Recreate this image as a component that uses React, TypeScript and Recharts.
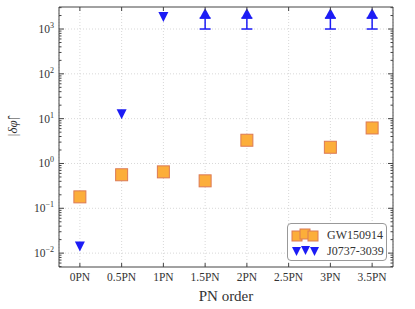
import React from "react";
import {
  CartesianGrid,
  ErrorBar,
  Legend,
  Scatter,
  ScatterChart,
  XAxis,
  YAxis,
} from "recharts";

const pnOrders = [0, 0.5, 1, 1.5, 2, 2.5, 3, 3.5];
const pnLabels = ["0PN", "0.5PN", "1PN", "1.5PN", "2PN", "2.5PN", "3PN", "3.5PN"];

const gwOrders = [0, 0.5, 1, 1.5, 2, 3, 3.5];
const gwValues = [0.18, 0.56, 0.65, 0.41, 3.3, 2.3, 6.2];

const psrBoundOrders = [0, 0.5, 1];
const psrBoundValues = [0.014, 12.5, 1850];

// lower limits: value is the base of the up-arrow, bar drops to 1e3
const psrLimitOrders = [1.5, 2, 3, 3.5];
const psrLimitValues = [1750, 1750, 1750, 1750];
const psrLimitLowErr = [750, 750, 750, 750];

const majorTicks = [0.01, 0.1, 1, 10, 100, 1000];
const minorTicks = [-3, -2, -1, 0, 1, 2, 3].flatMap((e) =>
  [2, 3, 4, 5, 6, 7, 8, 9].map((m) => Number((m * Math.pow(10, e)).toPrecision(3)))
).filter((v) => v >= 0.0049 && v <= 3100);
const allYTicks = [...majorTicks, ...minorTicks].sort((a, b) => a - b);

const gwData = gwOrders.map((x, i) => ({ x, y: gwValues[i] }));
const psrBoundData = psrBoundOrders.map((x, i) => ({ x, y: psrBoundValues[i] }));
const psrLimitData = psrLimitOrders.map((x, i) => ({ x, y: psrLimitValues[i], err: [psrLimitLowErr[i], 0] }));

const FONT = "'Liberation Serif', 'DejaVu Serif', serif";
const AXIS = "#444";
const BLUE = "#1c1cf5";
const ORANGE = "#fcae3a";
const ORANGE_EDGE = "#dc7a55";

const isMajor = (v: number) => Math.abs(Math.log10(v) - Math.round(Math.log10(v))) < 1e-6;

const LeftTick = (props: any) => {
  const { x, y, payload } = props;
  const v = payload.value;
  const major = isMajor(v);
  const len = major ? 5 : 2.5;
  const exp = Math.round(Math.log10(v));
  return (
    <g>
      <line x1={x} x2={x + len} y1={y} y2={y} stroke={AXIS} strokeWidth={1} />
      {major && (
        <text x={x - 5} y={y + 4} textAnchor="end" fontFamily={FONT} fontSize={11.5} fill="#333">
          10
          <tspan dy={-5} fontSize={8}>
            {exp < 0 ? "\u2212" + Math.abs(exp) : exp}
          </tspan>
        </text>
      )}
    </g>
  );
};

const RightTick = (props: any) => {
  const { x, y, payload } = props;
  const len = isMajor(payload.value) ? 5 : 2.5;
  return <line x1={x} x2={x - len} y1={y} y2={y} stroke={AXIS} strokeWidth={1} />;
};

const BottomTick = (props: any) => {
  const { x, y, payload } = props;
  const idx = pnOrders.indexOf(payload.value);
  return (
    <g>
      <line x1={x} x2={x} y1={y} y2={y - 4} stroke={AXIS} strokeWidth={1} />
      <text x={x} y={y + 14} textAnchor="middle" fontFamily={FONT} fontSize={11.5} fill="#333">
        {pnLabels[idx]}
      </text>
    </g>
  );
};

const TopTick = (props: any) => {
  const { x, y } = props;
  return <line x1={x} x2={x} y1={y} y2={y + 4} stroke={AXIS} strokeWidth={1} />;
};

const Square = (props: any) => {
  const { cx, cy } = props;
  const s = 12;
  return <rect x={cx - s / 2} y={cy - s / 2} width={s} height={s} fill={ORANGE} stroke={ORANGE_EDGE} strokeWidth={1} />;
};

const DownTri = (props: any) => {
  const { cx, cy } = props;
  const w = 5;
  return <path d={`M${cx - w},${cy - w} L${cx + w},${cy - w} L${cx},${cy + w} Z`} fill={BLUE} />;
};

// arrow head sits on top of the point, base at the point itself
const UpArrow = (props: any) => {
  const { cx, cy } = props;
  const w = 5.5;
  return <path d={`M${cx - w},${cy} L${cx + w},${cy} L${cx},${cy - 10} Z`} fill={BLUE} />;
};

const LegendBox = () => (
  <div
    style={{
      border: "1px solid #999",
      borderRadius: 4,
      background: "#fff",
      width: 100,
      height: 38,
      boxSizing: "border-box",
      fontFamily: FONT,
      fontSize: 12,
      color: "#333",
      padding: "3px 0 0 3px",
    }}
  >
    <div style={{ display: "flex", alignItems: "center", height: 16 }}>
      <svg width={30} height={14}>
        <rect x={1} y={3} width={10} height={10} fill={ORANGE} stroke={ORANGE_EDGE} />
        <rect x={9} y={1} width={10} height={10} fill={ORANGE} stroke={ORANGE_EDGE} />
        <rect x={17} y={3} width={10} height={10} fill={ORANGE} stroke={ORANGE_EDGE} />
      </svg>
      <span style={{ marginLeft: 6 }}>GW150914</span>
    </div>
    <div style={{ display: "flex", alignItems: "center", height: 16 }}>
      <svg width={30} height={14}>
        <path d="M1,3 L10,3 L5.5,12 Z" fill={BLUE} />
        <path d="M10,2 L19,2 L14.5,11 Z" fill={BLUE} />
        <path d="M19,3 L28,3 L23.5,12 Z" fill={BLUE} />
      </svg>
      <span style={{ marginLeft: 6 }}>J0737-3039</span>
    </div>
  </div>
);

export default function App() {
  return (
    <div style={{ position: "absolute", left: 0, top: 0, background: "#fff" }}>
      <ScatterChart width={415} height={309} margin={{ top: 6, right: 21, bottom: 0, left: 8 }}>
        <CartesianGrid stroke="#d8d8d8" strokeDasharray="1 2" horizontalValues={majorTicks} />
        <XAxis
          type="number"
          dataKey="x"
          domain={[-0.25, 3.75]}
          ticks={pnOrders}
          interval={0}
          allowDataOverflow
          height={42}
          tickSize={0}
          tickMargin={0}
          tick={<BottomTick />}
          axisLine={{ stroke: AXIS }}
          label={{ value: "PN order", position: "insideBottom", offset: 8, fontFamily: FONT, fontSize: 15, fill: "#333" }}
        />
        <XAxis
          xAxisId="t"
          orientation="top"
          type="number"
          dataKey="x"
          domain={[-0.25, 3.75]}
          ticks={pnOrders}
          interval={0}
          allowDataOverflow
          height={1}
          tickSize={0}
          tickMargin={0}
          tick={<TopTick />}
          axisLine={{ stroke: AXIS }}
        />
        <YAxis
          type="number"
          dataKey="y"
          scale="log"
          domain={[0.0049, 3100]}
          allowDataOverflow
          ticks={allYTicks}
          interval={0}
          width={51}
          tickSize={0}
          tickMargin={0}
          tick={<LeftTick />}
          axisLine={{ stroke: AXIS }}
          label={{
            value: "|δφ\u0302|",
            angle: -90,
            position: "insideLeft",
            offset: 4,
            fontFamily: FONT,
            fontSize: 13,
            fontStyle: "italic",
            fill: "#333",
          }}
        />
        <YAxis
          yAxisId="r"
          orientation="right"
          type="number"
          dataKey="y"
          scale="log"
          domain={[0.0049, 3100]}
          allowDataOverflow
          ticks={allYTicks}
          interval={0}
          width={1}
          tickSize={0}
          tickMargin={0}
          tick={<RightTick />}
          axisLine={{ stroke: AXIS }}
        />
        <Legend
          verticalAlign="middle"
          align="center"
          layout="horizontal"
          content={<LegendBox />}
          wrapperStyle={{ left: 287, top: 223, width: 100, height: 38 }}
        />
        <Scatter name="GW150914" data={gwData} shape={<Square />} isAnimationActive={false} />
        <Scatter name="J0737-3039" data={psrBoundData} shape={<DownTri />} isAnimationActive={false} />
        <Scatter name="J0737-3039 limit" data={psrLimitData} shape={<UpArrow />} isAnimationActive={false}>
          <ErrorBar dataKey="err" direction="y" width={5.5} stroke={BLUE} strokeWidth={1.5} />
        </Scatter>
      </ScatterChart>
    </div>
  );
}
